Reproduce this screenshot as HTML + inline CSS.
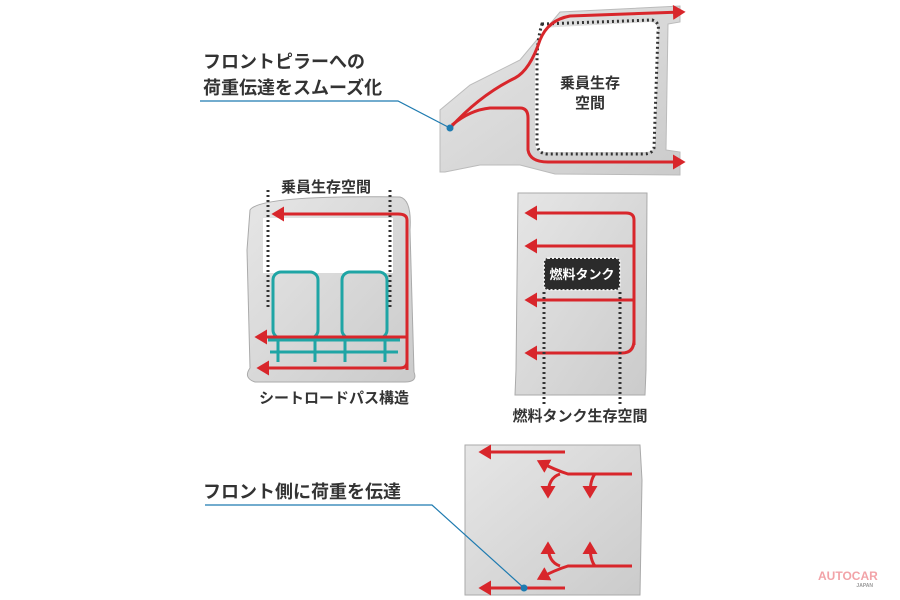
<!DOCTYPE html>
<html><head><meta charset="utf-8"><style>
html,body{margin:0;padding:0;background:#fff;}
svg{display:block;}
text{font-family:"Liberation Sans","Noto Sans CJK JP",sans-serif;font-weight:bold;}
</style></head><body>
<svg width="900" height="600" viewBox="0 0 900 600" xmlns="http://www.w3.org/2000/svg">
<defs>
<marker id="ah" markerWidth="5" markerHeight="5" refX="3" refY="2.5" orient="auto" markerUnits="strokeWidth"><path d="M0,0 L4.2,2.5 L0,5 Z" fill="#d8262b"/></marker>
<linearGradient id="g" x1="0" y1="0" x2="1" y2="1"><stop offset="0" stop-color="#e6e6e6"/><stop offset="1" stop-color="#cbcbcb"/></linearGradient>
</defs>
<!-- top side body -->
<path d="M440,172 L440,110 L470,85 L520,60 L560,12 L680,6 L680,22 L668,24 L666,150 L680,152 L680,175 L555,174 L520,165 L480,165 L445,172 Z" fill="url(#g)" stroke="#bbb"/>
<path d="M540,28 L650,22 Q658,22 658,32 L655,145 Q654,152 645,152 L545,152 Q535,152 535,142 L535,60 Z" fill="#fff"/>
<path d="M542,24 L652,20 Q660,22 658,32 L654,148 Q652,154 644,154 L548,154 Q537,154 537,142 L537,62 Q537,40 542,24 Z" fill="none" stroke="#333" stroke-width="3" stroke-dasharray="2,3"/>
<text x="590" y="88" font-size="15" text-anchor="middle" fill="#333">乗員生存</text>
<text x="590" y="108" font-size="15" text-anchor="middle" fill="#333">空間</text>
<path d="M450,128 Q480,95 515,78 Q530,70 540,40 Q548,20 570,16 L682,12" fill="none" stroke="#d8262b" stroke-width="3" marker-end="url(#ah)"/>
<path d="M452,125 Q470,110 490,108 L520,108 Q528,108 528,118 L528,150 Q530,162 548,162 L682,162" fill="none" stroke="#d8262b" stroke-width="3" marker-end="url(#ah)"/>
<polyline points="200,101 398,101 450,128" fill="none" stroke="#1f7bb0" stroke-width="1.2"/>
<circle cx="450" cy="128" r="3.5" fill="#1f7bb0"/>
<text x="203" y="68" font-size="18" fill="#333">フロントピラーへの</text>
<text x="203" y="94" font-size="18" fill="#333">荷重伝達をスムーズ化</text>
<!-- seat panel -->
<path d="M250,210 Q260,195 400,197 Q412,200 410,230 L414,372 Q418,382 405,382 L255,382 Q243,378 250,368 L247,250 Z" fill="url(#g)" stroke="#aaa"/>
<rect x="263" y="218" width="130" height="55" fill="#fff"/>
<line x1="268" y1="190" x2="268" y2="308" stroke="#333" stroke-width="3" stroke-dasharray="2,3"/>
<line x1="390" y1="190" x2="390" y2="308" stroke="#333" stroke-width="3" stroke-dasharray="2,3"/>
<text x="326" y="192" font-size="15" text-anchor="middle" fill="#333">乗員生存空間</text>
<g fill="none" stroke="#1fa5a5" stroke-width="3">
<rect x="273" y="272" width="45" height="66" rx="8"/>
<rect x="342" y="272" width="45" height="66" rx="8"/>
<path d="M268,340 L400,340 M270,352 L398,352 M278,340 L278,362 M315,340 L315,362 M345,340 L345,362 M385,340 L385,362"/>
</g>
<path d="M407,370 L407,220 Q407,214 398,214 L275,214" fill="none" stroke="#d8262b" stroke-width="3" marker-end="url(#ah)"/>
<line x1="407" y1="337" x2="258" y2="337" stroke="#d8262b" stroke-width="3" marker-end="url(#ah)"/>
<path d="M407,362 Q407,368 400,368 L260,368" fill="none" stroke="#d8262b" stroke-width="3" marker-end="url(#ah)"/>
<text x="334" y="403" font-size="15" text-anchor="middle" fill="#333">シートロードパス構造</text>
<!-- fuel panel -->
<path d="M518,193 L647,193 L646,370 L645,395 L515,395 L516,370 Z" fill="url(#g)" stroke="#aaa"/>
<path d="M634,345 L634,220 Q634,213 626,213 L528,213" fill="none" stroke="#d8262b" stroke-width="3" marker-end="url(#ah)"/>
<line x1="634" y1="246" x2="528" y2="246" stroke="#d8262b" stroke-width="3" marker-end="url(#ah)"/>
<line x1="634" y1="300" x2="528" y2="300" stroke="#d8262b" stroke-width="3" marker-end="url(#ah)"/>
<path d="M634,340 Q634,353 622,353 L528,353" fill="none" stroke="#d8262b" stroke-width="3" marker-end="url(#ah)"/>
<rect x="544" y="258" width="76" height="32" rx="4" fill="#2b2b2b" stroke="#eee" stroke-width="2" stroke-dasharray="2,2"/>
<text x="582" y="279" font-size="13" text-anchor="middle" fill="#fff">燃料タンク</text>
<line x1="544" y1="292" x2="544" y2="405" stroke="#333" stroke-width="3" stroke-dasharray="2,3"/>
<line x1="620" y1="292" x2="620" y2="405" stroke="#333" stroke-width="3" stroke-dasharray="2,3"/>
<text x="580" y="421" font-size="15" text-anchor="middle" fill="#333">燃料タンク生存空間</text>
<!-- bottom panel -->
<path d="M465,445 L640,445 L642,480 L640,595 L465,595 Z" fill="url(#g)" stroke="#aaa"/>
<line x1="565" y1="452" x2="482" y2="452" stroke="#d8262b" stroke-width="3" marker-end="url(#ah)"/>
<line x1="565" y1="588" x2="482" y2="588" stroke="#d8262b" stroke-width="3" marker-end="url(#ah)"/>
<path d="M632,474 L568,474 Q555,470 540,462" fill="none" stroke="#d8262b" stroke-width="3" marker-end="url(#ah)"/>
<path d="M632,566 L568,566 Q555,570 540,578" fill="none" stroke="#d8262b" stroke-width="3" marker-end="url(#ah)"/>
<path d="M560,474 Q548,478 548,495" fill="none" stroke="#d8262b" stroke-width="3" marker-end="url(#ah)"/>
<path d="M595,474 Q590,480 590,495" fill="none" stroke="#d8262b" stroke-width="3" marker-end="url(#ah)"/>
<path d="M560,566 Q548,562 548,545" fill="none" stroke="#d8262b" stroke-width="3" marker-end="url(#ah)"/>
<path d="M595,566 Q590,560 590,545" fill="none" stroke="#d8262b" stroke-width="3" marker-end="url(#ah)"/>
<polyline points="205,505 432,505 524,588" fill="none" stroke="#1f7bb0" stroke-width="1.2"/>
<circle cx="524" cy="588" r="3.5" fill="#1f7bb0"/>
<text x="203" y="498" font-size="18" fill="#333">フロント側に荷重を伝達</text>
<text x="818" y="580" font-size="12" fill="#f2a3a8">AUTOCAR</text>
<text x="873" y="587" font-size="5" fill="#999" text-anchor="end">JAPAN</text>
</svg>
</body></html>
